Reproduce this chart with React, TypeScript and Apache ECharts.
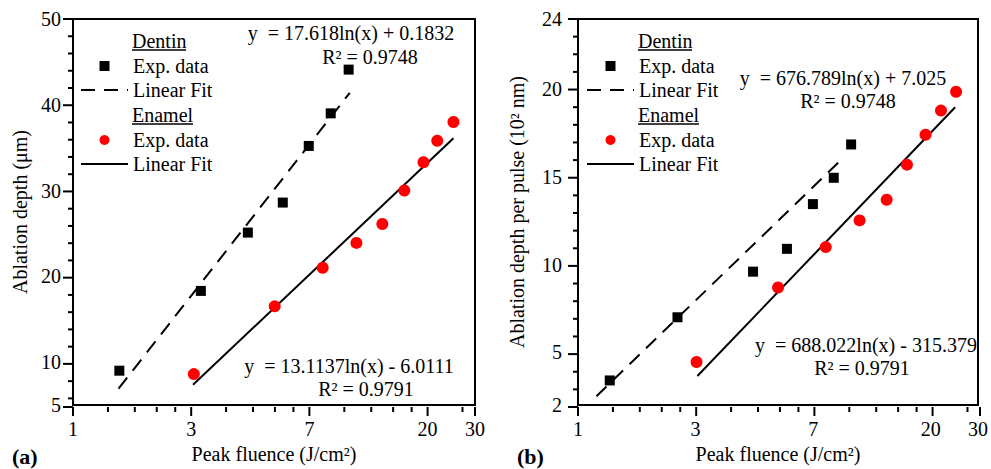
import React, { useEffect, useRef } from 'react';
import * as echarts from 'echarts';

const FONT = '"Liberation Serif", "Times New Roman", Times, serif';

// x axis (natural-log scale): major ticks at e^0..e^3 and the 30 end
const xTickValues = [1, 2.718, 7.389, 20.086, 30];
const xTickLabels = ['1', '3', '7', '20', '30'];
const xMinorTicks = [1.344, 1.687, 2.031, 2.375, 3.652, 4.586, 5.521, 6.455, 9.928, 12.468, 15.007, 17.547, 26.988];

// panel (a) y axis
const yaLabels = [5, 10, 20, 30, 40, 50];
const yaMajorTicks = [5, 10, 20, 30, 40, 50];
const yaMinorTicks = [6, 8, 12, 14, 16, 18, 22, 24, 26, 28, 32, 34, 36, 38, 42, 44, 46, 48];

// panel (b) y axis
const ybLabels = [2, 5, 10, 15, 20, 24];
const ybMajorTicks = [2, 5, 10, 15, 20, 24];
const ybMinorTicks = [3, 4, 6, 7, 8, 9, 11, 12, 13, 14, 16, 17, 18, 19, 21, 22, 23];

// panel (a) data
const aDentinX = [1.48, 2.95, 4.39, 5.9, 7.35, 8.85, 10.3];
const aDentinY = [9.0, 18.3, 25.1, 28.6, 35.2, 39.0, 44.1];
const aEnamelX = [2.78, 5.51, 8.27, 11.0, 13.7, 16.5, 19.4, 21.8, 25.0];
const aEnamelY = [8.6, 16.5, 21.0, 23.9, 26.1, 30.0, 33.3, 35.8, 38.0];
const aDentinFitX = [1.47, 10.4];
const aDentinFitY = [6.9, 41.4];
const aEnamelFitX = [2.76, 25.0];
const aEnamelFitY = [7.35, 36.1];

// panel (b) data
const bDentinX = [1.31, 2.33, 4.43, 5.91, 7.37, 8.8, 10.2];
const bDentinY = [3.4, 7.0, 9.6, 10.9, 13.45, 14.95, 16.85];
const bEnamelX = [2.74, 5.48, 8.22, 10.96, 13.8, 16.4, 19.2, 21.9, 24.9];
const bEnamelY = [4.45, 8.7, 11.0, 12.52, 13.7, 15.7, 17.4, 18.78, 19.85];
const bDentinFitX = [1.17, 9.41];
const bDentinFitY = [2.5, 16.0];
const bEnamelFitX = [2.76, 24.7];
const bEnamelFitY = [3.65, 18.97];

const legendNames: Record<string, string> = {
  aDE: 'Exp. data', aDF: 'Linear Fit', aEE: 'Exp. data', aEF: 'Linear Fit',
  bDE: 'Exp. data', bDF: 'Linear Fit', bEE: 'Exp. data', bEF: 'Linear Fit',
};

const X_MIN = 1;
const X_MAX = 30;
const GRID_TOP = 19;
const GRID_H = 388;
const GRID_W = 402;
const GRID_A_LEFT = 73;
const GRID_B_LEFT = 578;

const zip = (xs: number[], ys: number[]) => xs.map((x, i) => [x, ys[i]]);

const xLabelFmt = (v: number) => {
  for (let i = 0; i < xTickValues.length; i++) {
    if (Math.abs(v - xTickValues[i]) / xTickValues[i] < 0.01) return xTickLabels[i];
  }
  return '';
};

const textBase = { fontFamily: FONT, fontSize: 20, color: '#000' };

function makeAxes(gridIndex: number, yMin: number, yMax: number, yLabels: number[], yName: string, yNameGap: number, yLabelMargin: number) {
  const x = {
    type: 'log', logBase: Math.E, gridIndex, min: X_MIN, max: X_MAX, position: 'bottom',
    name: 'Peak fluence (J/cm²)', nameLocation: 'middle', nameGap: 39,
    nameTextStyle: { ...textBase },
    axisLine: { show: true, lineStyle: { color: '#000', width: 2 } },
    axisTick: { show: false },
    axisLabel: { show: true, margin: 14, ...textBase, customValues: xTickValues, formatter: xLabelFmt },
    splitLine: { show: false },
  };
  const y = {
    type: 'value', gridIndex, min: yMin, max: yMax, position: 'left',
    name: yName, nameLocation: 'middle', nameGap: yNameGap, nameRotate: 90,
    nameTextStyle: { ...textBase },
    axisLine: { show: true, lineStyle: { color: '#000', width: 2 } },
    axisTick: { show: false },
    axisLabel: { show: true, margin: yLabelMargin, ...textBase, customValues: yLabels },
    splitLine: { show: false },
  };
  return { x, y };
}

// axis tick marks as graphic lines, placed with the same log / linear mapping as the axes
function tickLines(gridLeft: number, yMin: number, yMax: number, yMajor: number[], yMinor: number[]) {
  const els: any[] = [];
  const bottom = GRID_TOP + GRID_H;
  const xPix = (v: number) => gridLeft + (GRID_W * Math.log(v / X_MIN)) / Math.log(X_MAX / X_MIN);
  const yPix = (v: number) => GRID_TOP + (GRID_H * (yMax - v)) / (yMax - yMin);
  const xt = (vals: number[], len: number) => vals.forEach((v) => {
    const px = xPix(v);
    els.push({ type: 'line', shape: { x1: px, y1: bottom, x2: px, y2: bottom + len }, style: { stroke: '#000', lineWidth: 2 } });
  });
  const yt = (vals: number[], len: number) => vals.forEach((v) => {
    const py = yPix(v);
    els.push({ type: 'line', shape: { x1: gridLeft - len, y1: py, x2: gridLeft, y2: py }, style: { stroke: '#000', lineWidth: 2 } });
  });
  xt(xTickValues, 9);
  xt(xMinorTicks, 5);
  yt(yMajor, 10);
  yt(yMinor, 5);
  return els;
}

function series(prefix: string, axisIdx: number, dX: number[], dY: number[], eX: number[], eY: number[], dfX: number[], dfY: number[], efX: number[], efY: number[]) {
  return [
    { name: prefix + 'DE', type: 'scatter', xAxisIndex: axisIdx, yAxisIndex: axisIdx, symbol: 'rect', symbolSize: 10, itemStyle: { color: '#000', opacity: 1 }, data: zip(dX, dY), z: 3 },
    { name: prefix + 'DF', type: 'line', xAxisIndex: axisIdx, yAxisIndex: axisIdx, symbol: 'none', lineStyle: { color: '#000', width: 2, type: [14, 9] }, itemStyle: { color: '#000' }, data: zip(dfX, dfY), z: 2 },
    { name: prefix + 'EE', type: 'scatter', xAxisIndex: axisIdx, yAxisIndex: axisIdx, symbol: 'circle', symbolSize: 12, itemStyle: { color: '#ff0000', opacity: 1 }, data: zip(eX, eY), z: 3 },
    { name: prefix + 'EF', type: 'line', xAxisIndex: axisIdx, yAxisIndex: axisIdx, symbol: 'none', lineStyle: { color: '#000', width: 2, type: 'solid' }, itemStyle: { color: '#000' }, data: zip(efX, efY), z: 2 },
  ];
}

const SQUARE_ICON = 'path://M0,0H10V10H0Z';

function legend(expName: string, fitName: string, expIcon: string, left: number, top: number) {
  return {
    orient: 'vertical', left, top, padding: 0, itemWidth: 47, itemHeight: 10, itemGap: 4,
    selectedMode: false, symbolKeepAspect: true,
    data: [{ name: expName, icon: expIcon }, { name: fitName, itemStyle: { opacity: 0 } }],
    formatter: (n: string) => legendNames[n] || n,
    textStyle: { ...textBase, lineHeight: 20 },
  };
}

function header(text: string, x: number, y: number, width: number) {
  return [
    { type: 'text', left: x, top: y - 11, style: { text, fontFamily: FONT, fontSize: 20, fill: '#000' } },
    { type: 'line', shape: { x1: x, y1: y + 8, x2: x + width, y2: y + 8 }, style: { stroke: '#000', lineWidth: 1.5 } },
  ];
}

function centerText(text: string, x: number, y: number) {
  return { type: 'text', x, y, style: { text, fontFamily: FONT, fontSize: 20, fill: '#000', align: 'center', verticalAlign: 'middle' } };
}

export default function App() {
  const ref = useRef<HTMLDivElement>(null);
  useEffect(() => {
    if (!ref.current) return;
    const chart = echarts.init(ref.current, undefined, { renderer: 'svg' });
    const a = makeAxes(0, 5, 50, yaLabels, 'Ablation depth (μm)', 43, 12);
    const b = makeAxes(1, 2, 24, ybLabels, 'Ablation depth per pulse (10² nm)', 51, 16);
    const option: any = {
      animation: false,
      backgroundColor: '#fff',
      textStyle: { fontFamily: FONT },
      grid: [
        { left: GRID_A_LEFT, top: GRID_TOP, width: GRID_W, height: GRID_H, show: true, borderColor: '#000', borderWidth: 2, backgroundColor: 'transparent' },
        { left: GRID_B_LEFT, top: GRID_TOP, width: GRID_W, height: GRID_H, show: true, borderColor: '#000', borderWidth: 2, backgroundColor: 'transparent' },
      ],
      xAxis: [a.x, b.x],
      yAxis: [a.y, b.y],
      legend: [
        legend('aDE', 'aDF', SQUARE_ICON, 80, 56),
        legend('aEE', 'aEF', 'circle', 80, 130),
        legend('bDE', 'bDF', SQUARE_ICON, 586, 56),
        legend('bEE', 'bEF', 'circle', 586, 130),
      ],
      series: [
        ...series('a', 0, aDentinX, aDentinY, aEnamelX, aEnamelY, aDentinFitX, aDentinFitY, aEnamelFitX, aEnamelFitY),
        ...series('b', 1, bDentinX, bDentinY, bEnamelX, bEnamelY, bDentinFitX, bDentinFitY, bEnamelFitX, bEnamelFitY),
      ],
      graphic: [
        ...header('Dentin', 132, 42, 54),
        ...header('Enamel', 132, 116, 61),
        ...header('Dentin', 638, 42, 54),
        ...header('Enamel', 638, 116, 61),
        centerText('y  = 17.618ln(x) + 0.1832', 351, 33),
        centerText('R² = 0.9748', 370, 57),
        centerText('y  = 13.1137ln(x) - 6.0111', 349, 366),
        centerText('R² = 0.9791', 366, 389),
        centerText('y  = 676.789ln(x) + 7.025', 843, 78),
        centerText('R² = 0.9748', 848, 101),
        centerText('y  = 688.022ln(x) - 315.379', 866, 345),
        centerText('R² = 0.9791', 862, 368),
        { type: 'text', left: 12, top: 445, style: { text: '(a)', fontFamily: FONT, fontSize: 22, fontWeight: 'bold', fill: '#000' } },
        { type: 'text', left: 517, top: 445, style: { text: '(b)', fontFamily: FONT, fontSize: 22, fontWeight: 'bold', fill: '#000' } },
        ...tickLines(GRID_A_LEFT, 5, 50, yaMajorTicks, yaMinorTicks),
        ...tickLines(GRID_B_LEFT, 2, 24, ybMajorTicks, ybMinorTicks),
      ],
    };
    chart.setOption(option);
    return () => chart.dispose();
  }, []);
  return <div ref={ref} style={{ position: 'fixed', left: 0, top: 0, width: 991, height: 469 }} />;
}
